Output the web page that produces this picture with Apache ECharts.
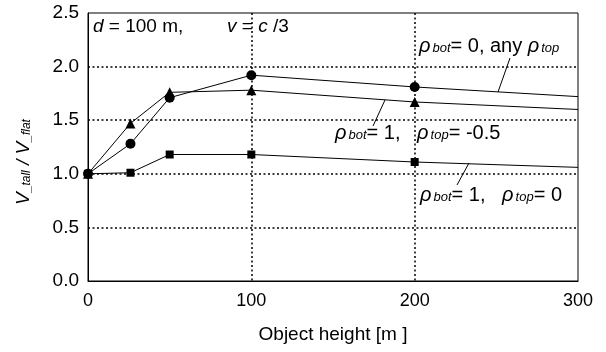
<!DOCTYPE html>
<html>
<head>
<meta charset="utf-8">
<script src="https://cdn.jsdelivr.net/npm/echarts@6/dist/echarts.min.js"></script>
<style>
  html, body { margin: 0; padding: 0; background: #fff; }
  #chart { width: 606px; height: 352px; }
</style>
</head>
<body>
<div id="chart"></div>
<script>
// Object heights [m] at which the ratio was evaluated
const heights = [0, 26, 50, 100, 200, 300];

// V_tall / V_flat for each reflection case
const ratioBot0AnyTop = [1.00, 1.28, 1.71, 1.92, 1.81, 1.72];
const ratioBot1TopNeg05 = [1.00, 1.47, 1.76, 1.78, 1.67, 1.60];
const ratioBot1Top0 = [1.00, 1.01, 1.18, 1.18, 1.11, 1.06];

const xTicks = [0, 100, 200, 300];
const yTicks = ['0.0', '0.5', '1.0', '1.5', '2.0', '2.5'];

const FONT = '"Liberation Sans", Arial, sans-serif';

// the last point (300 m) is the curve's end, drawn without a marker
function toPoints(values) {
  return heights.map((h, i) => {
    const item = { value: [h, values[i]] };
    if (h === 300) item.symbol = 'none';
    return item;
  });
}

function curve(name, values, symbol, size) {
  return {
    name,
    type: 'line',
    data: toPoints(values),
    symbol,
    symbolSize: size,
    showAllSymbol: true,
    lineStyle: { color: '#000', width: 1 },
    itemStyle: { color: '#000', borderWidth: 0 },
    emphasis: { disabled: true },
    animation: false,
    z: 3
  };
}

const dotted = { color: '#000', width: 1.5, type: [2, 2.5] };

const condRich = {
  r: { fontFamily: FONT, fontSize: 19, fontStyle: 'italic', color: '#000' },
  t: { fontFamily: FONT, fontSize: 19, color: '#000' }
};

const rhoRich = {
  r: { fontFamily: FONT, fontSize: 20, fontStyle: 'italic', color: '#000' },
  s: { fontFamily: FONT, fontSize: 13, fontStyle: 'italic', color: '#000', padding: [5, 0, 0, 2] },
  t: { fontFamily: FONT, fontSize: 20, color: '#000' }
};

function label(x, y, text, rich) {
  return {
    type: 'text', left: x, top: y, z: 10,
    style: { text, rich: rich || rhoRich, fill: '#000' }
  };
}

function leader(x1, y1, x2, y2) {
  return {
    type: 'line', z: 10,
    shape: { x1, y1, x2, y2 },
    style: { stroke: '#000', lineWidth: 1 }
  };
}

const chart = echarts.init(document.getElementById('chart'), null, { renderer: 'canvas' });

chart.setOption({
  backgroundColor: '#fff',
  animation: false,
  grid: {
    left: 88, right: 28, top: 13, bottom: 71,
    show: true, borderColor: '#000', borderWidth: 1, backgroundColor: 'transparent'
  },
  xAxis: {
    type: 'value',
    min: 0, max: 300, interval: 100,
    name: 'Object height [m ]',
    nameLocation: 'middle',
    nameGap: 44,
    nameTextStyle: { fontFamily: FONT, fontSize: 19, color: '#000' },
    axisLine: { show: true, lineStyle: { color: '#000', width: 1 } },
    axisTick: { show: false },
    axisLabel: {
      fontFamily: FONT, fontSize: 18, color: '#000', margin: 11,
      formatter: v => String(xTicks[xTicks.indexOf(v)])
    },
    splitLine: { show: true, showMinLine: false, showMaxLine: false, lineStyle: dotted }
  },
  yAxis: {
    type: 'value',
    min: 0, max: 2.5, interval: 0.5,
    axisLine: { show: true, lineStyle: { color: '#000', width: 1 } },
    axisTick: { show: false },
    axisLabel: {
      fontFamily: FONT, fontSize: 19, color: '#000', margin: 9,
      formatter: v => yTicks[Math.round(v / 0.5)]
    },
    splitLine: { show: true, showMinLine: false, showMaxLine: false, lineStyle: dotted }
  },
  series: [
    curve('rho_bot = 0, any rho_top', ratioBot0AnyTop, 'circle', 10),
    curve('rho_bot = 1, rho_top = -0.5', ratioBot1TopNeg05, 'triangle', 10),
    curve('rho_bot = 1, rho_top = 0', ratioBot1Top0, 'rect', 8)
  ],
  graphic: [
    // y-axis title
    {
      type: 'text', x: 24, y: 162, rotation: Math.PI / 2, z: 10,
      style: {
        text: '{v|V}{s|_tall}{v| / V}{s|_flat}',
        align: 'center', verticalAlign: 'middle',
        rich: {
          v: { fontFamily: FONT, fontSize: 19, fontStyle: 'italic', color: '#000' },
          s: { fontFamily: FONT, fontSize: 12, fontStyle: 'italic', color: '#000', padding: [6, 0, 0, 0] }
        }
      }
    },
    // conditions
    label(93, 17, '{r|d}{t| = 100 m,}', condRich),
    label(227, 17, '{r|v}{t| = }{r|c}{t| /3}', condRich),
    // curve labels
    label(419, 36, '{r|ρ}{s|bot}{t|= 0, any }{r|ρ}{s|top}'),
    label(335, 123, '{r|ρ}{s|bot}{t|= 1,   }{r|ρ}{s|top}{t|= -0.5}'),
    label(420, 185, '{r|ρ}{s|bot}{t|= 1,   }{r|ρ}{s|top}{t|= 0}'),
    leader(510, 58, 498, 92),
    leader(373, 126, 385, 100),
    leader(469, 163, 457, 185)
  ]
});
</script>
</body>
</html>
